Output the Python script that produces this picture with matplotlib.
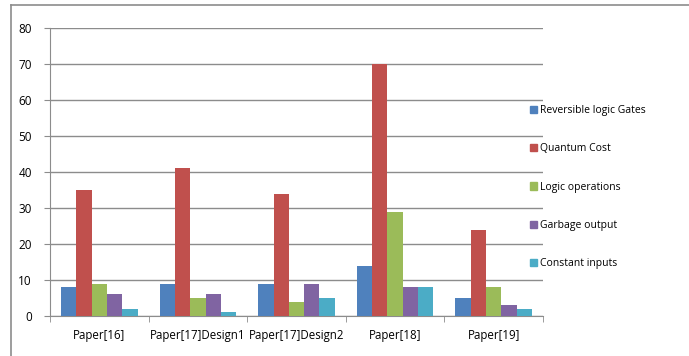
import matplotlib
matplotlib.use("Agg")
import matplotlib.pyplot as plt
from matplotlib.lines import Line2D
import numpy as np

categories = ["Paper[16]", "Paper[17]Design1", "Paper[17]Design2", "Paper[18]", "Paper[19]"]
series_names = ["Reversible logic Gates", "Quantum Cost", "Logic operations", "Garbage output", "Constant inputs"]
reversible_gates = [8, 9, 9, 14, 5]
quantum_cost = [35, 41, 34, 70, 24]
logic_operations = [9, 5, 4, 29, 8]
garbage_output = [6, 6, 9, 8, 3]
constant_inputs = [2, 1, 5, 8, 2]
y_ticks = [0, 10, 20, 30, 40, 50, 60, 70, 80]

series = [reversible_gates, quantum_cost, logic_operations, garbage_output, constant_inputs]
colors = ["#4F81BD", "#C0504D", "#9BBB59", "#8064A2", "#4BACC6"]

plt.rcParams['font.family'] = ['Open Sans', 'DejaVu Sans']

W, H = 689, 356
fig = plt.figure(figsize=(W/100, H/100), dpi=100)
ax = fig.add_axes([50/W, 1-316/H, 493/W, 288/H])

n = len(series)
x = np.arange(len(categories))
bw = 0.155
for i, (vals, c, name) in enumerate(zip(series, colors, series_names)):
    ax.bar(x + (i - (n-1)/2)*bw, vals, width=bw, color=c, label=name, zorder=3, linewidth=0)

ax.set_xlim(-0.5, len(categories)-0.5)
ax.set_ylim(0, 80)
ax.set_yticks(y_ticks)
ax.set_yticklabels([str(t) for t in y_ticks], fontsize=8.5)
ax.yaxis.grid(True, color="#8c8c8c", linewidth=1, zorder=0)
ax.set_xticks(x)
ax.set_xticklabels(categories, fontsize=8.3)
ax.tick_params(axis='x', length=0, pad=9)
ax.tick_params(axis='y', length=4, color="#8c8c8c", pad=9)
ax.set_xticks(np.arange(len(categories)+1) - 0.5, minor=True)
ax.tick_params(axis='x', which='minor', length=4, color="#8c8c8c")
for s in ["top", "right"]:
    ax.spines[s].set_visible(False)
ax.spines["left"].set_color("#8c8c8c")
ax.spines["bottom"].set_color("#8c8c8c")

handles = [plt.Rectangle((0, 0), 1, 1, color=c) for c in colors]
leg = fig.legend(handles, series_names, loc="upper left", bbox_to_anchor=(526/W, 1-101/H),
                 frameon=False, fontsize=7.5, handlelength=0.7, handleheight=0.7,
                 handletextpad=0.2, labelspacing=2.62, borderaxespad=0)

fig.add_artist(Line2D([11/W, 1], [1-5/H, 1-5/H], color="#8c8c8c", linewidth=1.2, transform=fig.transFigure))
fig.add_artist(Line2D([11/W, 11/W], [0, 1-5/H], color="#8c8c8c", linewidth=1.2, transform=fig.transFigure))

fig.savefig("out.png", dpi=100)
